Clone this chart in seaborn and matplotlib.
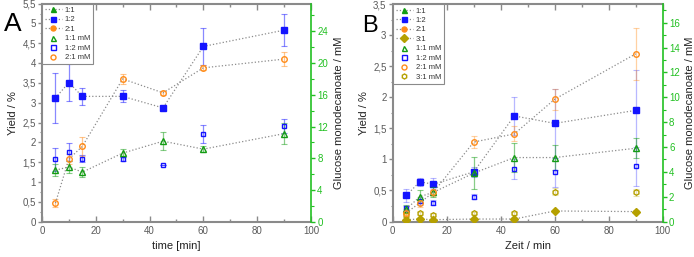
import numpy as np
import pandas as pd
import matplotlib
matplotlib.use("Agg")
import matplotlib.pyplot as plt
import seaborn as sns
from matplotlib.lines import Line2D
from matplotlib.ticker import MultipleLocator, FuncFormatter

# ---------------- data ----------------
time = [5, 10, 15, 30, 45, 60, 90]

# Panel A  (yield in %, concentrations in mM)
a_yield_12 = [3.12, 3.51, 3.16, 3.16, 2.87, 4.42, 4.83]
a_yield_12_err = [0.64, 0.46, 0.22, 0.15, 0.0, 0.47, 0.40]
a_mM_11 = [6.5, 6.9, 6.25, 8.65, 10.15, 9.15, 11.1]
a_mM_11_err = [0.75, 0.7, 0.6, 0.5, 1.1, 0.35, 1.3]
a_mM_12 = [7.85, 8.8, 7.95, 7.95, 7.15, 11.05, 12.1]
a_mM_12_err = [1.5, 1.15, 0.4, 0.25, 0.0, 1.15, 0.9]
a_mM_21 = [2.35, 7.9, 9.5, 18.0, 16.25, 19.4, 20.5]
a_mM_21_err = [0.5, 0.6, 1.2, 0.65, 0.25, 0.3, 0.9]

# Panel B
b_yield_12 = [0.42, 0.64, 0.60, 0.80, 1.70, 1.58, 1.79]
b_yield_12_err = [0.11, 0.06, 0.10, 0.08, 0.31, 0.56, 0.65]
b_yield_31 = [0.03, 0.04, 0.03, 0.04, 0.04, 0.17, 0.16]
b_yield_31_err = [0.01, 0.01, 0.01, 0.01, 0.01, 0.02, 0.02]
b_mM_11 = [1.0, 2.0, 2.35, 3.9, 5.15, 5.15, 5.9]
b_mM_11_err = [0.3, 0.5, 0.4, 1.3, 1.15, 1.0, 0.8]
b_mM_12 = [1.05, 1.65, 1.5, 2.0, 4.2, 3.95, 4.45]
b_mM_12_err = [0.2, 0.3, 0.2, 0.2, 0.8, 1.2, 1.55]
b_mM_21 = [0.7, 1.5, 2.35, 6.4, 7.05, 9.85, 13.5]
b_mM_21_err = [0.3, 0.3, 0.3, 0.5, 0.6, 0.85, 2.1]
b_mM_31 = [0.5, 0.65, 0.55, 0.7, 0.65, 2.4, 2.35]
b_mM_31_err = [0.1, 0.1, 0.1, 0.1, 0.1, 0.3, 0.3]

labels_A = ["1:1", "1:2", "2:1", "1:1 mM", "1:2 mM", "2:1 mM"]
labels_B = ["1:1", "1:2", "2:1", "3:1", "1:1 mM", "1:2 mM", "2:1 mM", "3:1 mM"]

# ---------------- style ----------------
sns.set_theme(style="ticks")
plt.rcParams["font.family"] = ["Liberation Sans", "DejaVu Sans"]

C_GREEN = "#139c13"
C_BLUE = "#1414ff"
C_ORANGE = "#ff8c1a"
C_OLIVE = "#b5a000"
AX_GREEN = "#22c022"
GRAY = "#8c8c8c"
SPINE = "#8a8a8a"
TICKLAB = "#5a5a5a"

comma = FuncFormatter(lambda v, p: ("%g" % round(v, 3)).replace(".", ","))


def draw(ax, y, err, color, marker, filled, line, ealpha=0.5, ms=4.0):
    ax.errorbar(time, y, yerr=err, fmt="none", ecolor=color, alpha=ealpha,
                elinewidth=0.9, capsize=2.2, capthick=0.8, zorder=2)
    sns.lineplot(x=time, y=y, ax=ax, color=GRAY, ls=":" if line else "",
                 lw=0.9, marker=marker, ms=ms,
                 mfc=color if filled else "none", mec=color, mew=1.0,
                 zorder=3, errorbar=None)


def style_axes(ax, ax2, ymax, ymajor, ymin, y2max, y2major, y2minor, xlabel):
    ax.set_xlim(0, 100)
    ax.set_ylim(0, ymax)
    ax2.set_ylim(0, y2max)
    ax.xaxis.set_major_locator(MultipleLocator(20))
    ax.xaxis.set_minor_locator(MultipleLocator(10))
    ax.yaxis.set_major_locator(MultipleLocator(ymajor))
    ax.yaxis.set_minor_locator(MultipleLocator(ymin))
    ax.yaxis.set_major_formatter(comma)
    ax2.yaxis.set_major_locator(MultipleLocator(y2major))
    ax2.yaxis.set_minor_locator(MultipleLocator(y2minor))
    for s in ["left", "top", "bottom"]:
        ax.spines[s].set_color(SPINE)
        ax.spines[s].set_linewidth(1.5)
        ax2.spines[s].set_visible(False)
    ax.spines["right"].set_visible(False)
    ax2.spines["right"].set_color(AX_GREEN)
    ax2.spines["right"].set_linewidth(1.2)
    ax.tick_params(axis="x", which="both", direction="in", top=True, bottom=True,
                   color=SPINE, labelcolor=TICKLAB, labelsize=7, pad=3)
    ax.tick_params(axis="x", which="major", length=4, width=1)
    ax.tick_params(axis="x", which="minor", length=2.5, width=1)
    ax.tick_params(axis="y", which="both", direction="out", color=SPINE,
                   labelcolor=TICKLAB, labelsize=7, pad=1.5)
    ax.tick_params(axis="y", which="major", length=3, width=1)
    ax.tick_params(axis="y", which="minor", length=1.8, width=0.8)
    ax2.tick_params(axis="y", which="both", direction="out", color=AX_GREEN,
                    labelcolor=AX_GREEN, labelsize=7, pad=1.5)
    ax2.tick_params(axis="y", which="major", length=3, width=1)
    ax2.tick_params(axis="y", which="minor", length=1.8, width=0.8)
    ax.set_xlabel(xlabel, fontsize=8, color="#222222", labelpad=4)
    ax.set_ylabel("Yield / %", fontsize=8, color="#222222", labelpad=3)
    ax2.set_ylabel("Glucose monodecanoate / mM", fontsize=8, color="#222222", labelpad=4)


def proxy(color, marker, filled, line):
    return Line2D([], [], color=GRAY, ls=":" if line else "", lw=0.9,
                  marker=marker, ms=3.6, mfc=color if filled else "none",
                  mec=color, mew=1.0)


fig = plt.figure(figsize=(6.94, 2.57), dpi=100)

# ---------------- Panel A ----------------
axA = fig.add_axes([0.0605, 0.1374, 0.3875, 0.8486])
axA2 = axA.twinx()
draw(axA, a_yield_12, a_yield_12_err, C_BLUE, "s", True, True)
draw(axA2, a_mM_12, a_mM_12_err, C_BLUE, "s", False, False, ms=3.5)
draw(axA2, a_mM_21, a_mM_21_err, C_ORANGE, "o", False, True, ms=4.0)
draw(axA2, a_mM_11, a_mM_11_err, C_GREEN, "^", False, True, ms=4.2)
style_axes(axA, axA2, 5.5, 0.5, 0.25, 27.5, 4, 2, "time [min]")
hA = [proxy(C_GREEN, "^", True, True), proxy(C_BLUE, "s", True, True),
      proxy(C_ORANGE, "o", True, True), proxy(C_GREEN, "^", False, False),
      proxy(C_BLUE, "s", False, False), proxy(C_ORANGE, "o", False, False)]
legA = axA2.legend(hA, labels_A, loc="upper left", bbox_to_anchor=(0, 1),
                   borderaxespad=0, fontsize=5.5, handlelength=2.2,
                   handletextpad=0.4, labelspacing=0.28, borderpad=0.4,
                   frameon=True, fancybox=False, framealpha=1,
                   edgecolor=SPINE)
legA.get_frame().set_linewidth(0.8)
for t in legA.get_texts():
    t.set_color("#333333")

# ---------------- Panel B ----------------
axB = fig.add_axes([0.566, 0.138, 0.389, 0.846])
axB2 = axB.twinx()
draw(axB, b_yield_12, b_yield_12_err, C_BLUE, "s", True, True, ealpha=0.3)
draw(axB, b_yield_31, b_yield_31_err, C_OLIVE, "D", True, True, ealpha=0.3, ms=3.6)
draw(axB2, b_mM_12, b_mM_12_err, C_BLUE, "s", False, False, ealpha=0.3, ms=3.5)
draw(axB2, b_mM_31, b_mM_31_err, C_OLIVE, "h", False, False, ealpha=0.3, ms=4.0)
draw(axB2, b_mM_11, b_mM_11_err, C_GREEN, "^", False, True, ealpha=0.5, ms=4.2)
draw(axB2, b_mM_21, b_mM_21_err, C_ORANGE, "o", False, True, ealpha=0.4, ms=4.0)
style_axes(axB, axB2, 3.5, 0.5, 0.25, 17.5, 2, 1, "Zeit / min")
hB = [proxy(C_GREEN, "^", True, True), proxy(C_BLUE, "s", True, True),
      proxy(C_ORANGE, "o", True, True), proxy(C_OLIVE, "D", True, True),
      proxy(C_GREEN, "^", False, False), proxy(C_BLUE, "s", False, False),
      proxy(C_ORANGE, "o", False, False), proxy(C_OLIVE, "h", False, False)]
legB = axB2.legend(hB, labels_B, loc="upper left", bbox_to_anchor=(0, 1),
                   borderaxespad=0, fontsize=5.5, handlelength=2.2,
                   handletextpad=0.4, labelspacing=0.28, borderpad=0.4,
                   frameon=True, fancybox=False, framealpha=1,
                   edgecolor=SPINE)
legB.get_frame().set_linewidth(0.8)
for t in legB.get_texts():
    t.set_color("#333333")

fig.text(0.006, 0.878, "A", fontsize=19, color="black", va="baseline")
fig.text(0.522, 0.874, "B", fontsize=17, color="black", va="baseline")

fig.savefig("out.png", dpi=100)
